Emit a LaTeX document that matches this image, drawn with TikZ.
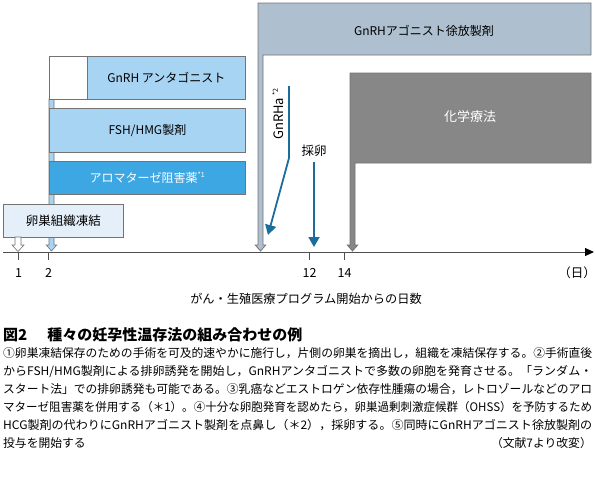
\documentclass[tikz,border=0pt]{standalone}
\usepackage{fontspec}
\setmainfont{Noto Sans CJK JP}
\usepackage{graphicx}
\usetikzlibrary{arrows.meta}
\definecolor{lblue}{HTML}{A8D4F3}
\definecolor{mblue}{HTML}{3DA7E3}
\definecolor{pblue}{HTML}{E4EFFA}
\definecolor{agcol}{HTML}{AEC0CF}
\definecolor{chemo}{HTML}{878787}
\definecolor{bord}{HTML}{737373}
\definecolor{dblue}{HTML}{1B6D9B}
\definecolor{axcol}{HTML}{505050}
\tikzset{
  boxline/.style={draw=bord, line width=0.8pt},
  lbl/.style={font=\fontsize{12}{14}\selectfont, inner sep=0pt},
  capline/.style={anchor=west, inner sep=0pt, font=\fontsize{11.8}{14}\selectfont},
  tick/.style={draw=axcol, line width=0.9pt},
  ticklbl/.style={font=\fontsize{12.5}{14}\selectfont, inner sep=0pt},
  bluearrow/.style={draw=dblue, line width=1.8pt, -{Triangle[length=10pt,width=11pt]}}
}
\newcommand{\astx}[1]{\raisebox{0.45em}{\fontsize{7}{7}\selectfont *#1}}
\newcommand{\capbox}[1]{\resizebox{589pt}{\height}{#1}}
\begin{document}
\begin{tikzpicture}[x=1pt,y=-1pt]
\useasboundingbox[fill=white] (0,0) rectangle (595,485);

% FSH strip with arrow at day 2
\filldraw[fill=lblue, draw=bord, line width=0.6pt]
  (49,99) -- (54,99) -- (54,245) -- (56.7,245) -- (51.5,251) -- (46.3,245) -- (49,245) -- cycle;

% GnRH antagonist
\node[boxline, fill=white, minimum width=38pt, minimum height=43pt, inner sep=0pt, anchor=north west] (antw) at (49,56) {};
\node[boxline, fill=lblue, minimum width=158pt, minimum height=43pt, inner sep=0pt, anchor=north west, lbl] (ant) at (87,56) {GnRH アンタゴニスト};

% FSH/HMG
\node[boxline, fill=lblue, minimum width=196pt, minimum height=44pt, inner sep=0pt, anchor=north west, lbl] (fsh) at (49,108) {FSH/HMG製剤};

% Aromatase
\node[draw=bord, line width=0.6pt, fill=mblue, minimum width=196pt, minimum height=33pt, inner sep=0pt, anchor=north west, lbl, text=white] (aro) at (49,161) {アロマターゼ阻害薬\astx{1}};

% Ovarian tissue freezing
\node[boxline, fill=pblue, minimum width=120pt, minimum height=33pt, inner sep=0pt, anchor=north west, font=\fontsize{12.5}{14}\selectfont] (ova) at (3,204) {卵巣組織凍結};
% day-1 open arrow
\filldraw[fill=white, draw=bord, line width=0.6pt]
  (15,237) -- (21,237) -- (21,245) -- (24,245) -- (18,251.5) -- (12,245) -- (15,245) -- cycle;

% GnRH agonist L-shape
\filldraw[fill=agcol, draw=bord, line width=0.8pt]
  (258,3) -- (591,3) -- (591,55) -- (263,55) -- (263,245) -- (265.7,245) -- (260.5,251) -- (255.3,245) -- (258,245) -- cycle;
\node[lbl] (ago) at (424,31) {GnRHアゴニスト徐放製剤};

% Chemotherapy
\filldraw[fill=chemo, draw=bord, line width=0.8pt]
  (350,73) -- (591,73) -- (591,163) -- (355,163) -- (355,245) -- (357.7,245) -- (352.5,251) -- (347.3,245) -- (350,245) -- cycle;
\node[lbl, text=white, font=\fontsize{13}{14}\selectfont] (chem) at (470,117) {化学療法};

% Axis
\coordinate (ax0) at (3,252);
\coordinate (ax1) at (594,252);
\draw[draw=axcol, line width=1pt, -{Triangle[length=9pt,width=8pt,color=black]}] (ax0) -- (ax1);
\foreach \xx/\nm in {18/1, 48/2, 309/12, 344/14} {
  \coordinate (t\nm) at (\xx,252);
  \draw[tick] (t\nm) -- ++(0,8);
  \node[ticklbl] (l\nm) at (\xx+0.5,273) {\nm};
}
\node[ticklbl] (day) at (577,273) {（日）};
\node[lbl, font=\fontsize{12.2}{14}\selectfont] (axl) at (306,299) {がん・生殖医療プログラム開始からの日数};

% GnRHa*2
\node[lbl, rotate=90, font=\fontsize{13}{14}\selectfont] (gnrha) at (278,114) {GnRHa\,\astx{2}};
\coordinate (ga0) at (289,86);
\coordinate (ga1) at (289,158);
\coordinate (ga2) at (268,235);
\draw[bluearrow] (ga0) -- (ga1) -- (ga2);

% Egg retrieval
\node[lbl, font=\fontsize{12.5}{14}\selectfont] (egg) at (314,151) {採卵};
\coordinate (egg0) at (314,162);
\coordinate (egg1) at (314,247);
\draw[bluearrow] (egg0) -- (egg1);

% Caption
\node[anchor=west, inner sep=0pt, font=\fontsize{15}{17}\bfseries\selectfont] (title) at (3,335) {図2\hspace{20pt}種々の妊孕性温存法の組み合わせの例};
\node[capline] (c1) at (3,353.5) {\capbox{①卵巣凍結保存のための手術を可及的速やかに施行し，片側の卵巣を摘出し，組織を凍結保存する。②手術直後}};
\node[capline] (c2) at (3,371.5) {\capbox{からFSH/HMG製剤による排卵誘発を開始し，GnRHアンタゴニストで多数の卵胞を発育させる。「ランダム・}};
\node[capline] (c3) at (3,389.5) {\capbox{スタート法」での排卵誘発も可能である。③乳癌などエストロゲン依存性腫瘍の場合，レトロゾールなどのアロ}};
\node[capline] (c4) at (3,407.5) {\capbox{マターゼ阻害薬を併用する（＊1）。④十分な卵胞発育を認めたら，卵巣過剰刺激症候群（OHSS）を予防するため}};
\node[capline] (c5) at (3,425.5) {\capbox{HCG製剤の代わりにGnRHアゴニスト製剤を点鼻し（＊2），採卵する。⑤同時にGnRHアゴニスト徐放製剤の}};
\node[capline] (c6) at (3,443.5) {投与を開始する};
\node[capline, anchor=east] (c7) at (592,443.5) {（文献7より改変）};
\end{tikzpicture}
\end{document}
